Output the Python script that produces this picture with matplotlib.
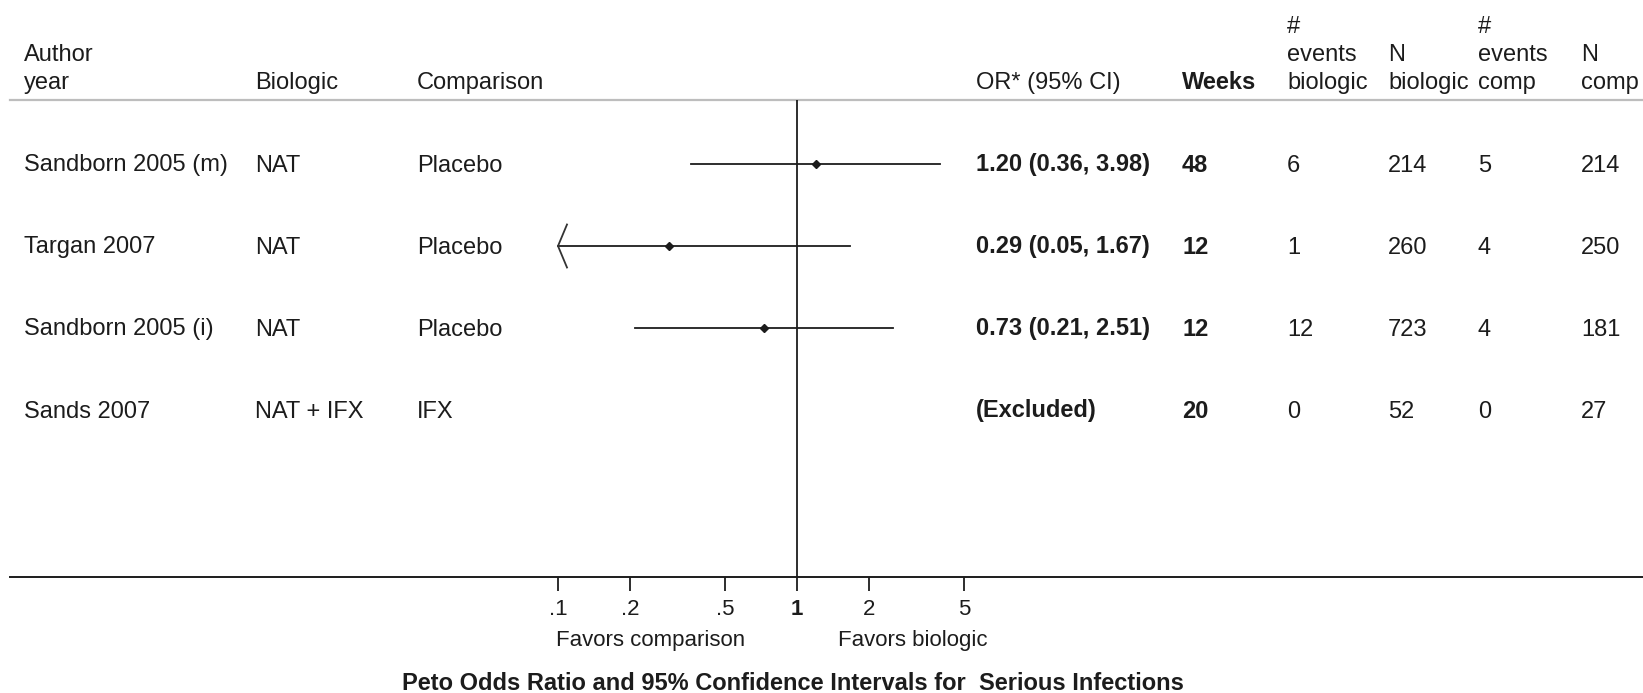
import numpy as np
import matplotlib.pyplot as plt
from matplotlib.ticker import NullLocator
from matplotlib.transforms import blended_transform_factory

plt.rcParams['font.family'] = ['Liberation Sans', 'DejaVu Sans']

# data
authors = ["Sandborn 2005 (m)", "Targan 2007", "Sandborn 2005 (i)", "Sands 2007"]
biologic = ["NAT", "NAT", "NAT", "NAT + IFX"]
comparison = ["Placebo", "Placebo", "Placebo", "IFX"]
odds = [1.20, 0.29, 0.73, np.nan]
ci_low = [0.36, 0.05, 0.21, np.nan]
ci_high = [3.98, 1.67, 2.51, np.nan]
weeks = [48, 12, 12, 20]
events_bio = [6, 1, 12, 0]
n_bio = [214, 260, 723, 52]
events_comp = [5, 4, 4, 0]
n_comp = [214, 250, 181, 27]

headers = ["Author\nyear", "Biologic", "Comparison", "OR* (95% CI)", "Weeks",
           "#\nevents\nbiologic", "N\nbiologic", "#\nevents\ncomp", "N\ncomp"]
xticks = [0.1, 0.2, 0.5, 1, 2, 5]
xtick_labels = [".1", ".2", ".5", "1", "2", "5"]
clip_lo = 0.1

# layout (pixels)
W, H = 1643, 693
col_x = [24, 255, 417, 976, 1182, 1287, 1388, 1478, 1581]
axis_y = 577
row0, row_step = 164, 82
ink = "#1c1c1c"
fs = 17

fig = plt.figure(figsize=(W / 100, H / 100), dpi=100)
ax = fig.add_axes([10 / W, 1 - axis_y / H, 1 - 10 / W, axis_y / H])
ax.set_xscale("log")
ax.set_xlim(10 ** ((10 - 797) / 239), 10 ** ((W - 797) / 239))
ax.set_ylim(axis_y, 0)
for s in ["top", "left", "right"]:
    ax.spines[s].set_visible(False)
ax.spines["bottom"].set_linewidth(1.4)
ax.spines["bottom"].set_color(ink)
ax.set_yticks([])
ax.set_xticks(xticks, xtick_labels)
ax.xaxis.set_minor_locator(NullLocator())
ax.tick_params(axis="x", length=10, width=1.3, pad=6, labelsize=16, colors=ink)
for lbl in ax.get_xticklabels():
    if lbl.get_text() == "1":
        lbl.set_fontweight("bold")

tr = blended_transform_factory(fig.transFigure, ax.transData)

# header
ax.plot([10 / W, 1], [100, 100], transform=tr, color="#bdbdbd", lw=1.6, clip_on=False)
for h, x in zip(headers, col_x):
    lines = h.split("\n")[::-1]
    for k, line in enumerate(lines):
        ax.text(x / W, 89 - k * 28, line, transform=tr, fontsize=fs, color=ink,
                va="baseline", ha="left",
                fontweight="bold" if h == "Weeks" else "normal")

# reference line
ax.vlines(1, 100, axis_y, color=ink, lw=1.3)

# rows
for i in range(len(authors)):
    y = row0 + i * row_step
    if np.isnan(odds[i]):
        or_txt = "(Excluded)"
    else:
        or_txt = f"{odds[i]:.2f} ({ci_low[i]:.2f}, {ci_high[i]:.2f})"
        lo = max(ci_low[i], clip_lo)
        ax.plot([lo, ci_high[i]], [y, y], color=ink, lw=1.3)
        ax.plot(odds[i], y, marker="D", ms=4.5, color=ink)
        if ci_low[i] < clip_lo:
            xa = clip_lo * 10 ** (9 / 239)
            ax.plot([xa, clip_lo, xa], [y - 21.5, y, y + 21.5], color="#333333", lw=1.3)
    vals = [authors[i], biologic[i], comparison[i], or_txt, str(weeks[i]),
            str(events_bio[i]), str(n_bio[i]), str(events_comp[i]), str(n_comp[i])]
    for j, (v, x) in enumerate(zip(vals, col_x)):
        ax.text(x / W, y + 7.5, v, transform=tr, fontsize=fs, color=ink,
                va="baseline", ha="left",
                fontweight="bold" if j in (3, 4) else "normal")

# bottom labels
ax.text(651 / W, 646, "Favors comparison", transform=tr, fontsize=16, color=ink,
        ha="center", va="baseline")
ax.text(913 / W, 646, "Favors biologic", transform=tr, fontsize=16, color=ink,
        ha="center", va="baseline")
ax.text(793 / W, 690, "Peto Odds Ratio and 95% Confidence Intervals for  Serious Infections",
        transform=tr, fontsize=fs, fontweight="bold", color=ink, ha="center", va="baseline")

fig.savefig("out.png", dpi=100)
